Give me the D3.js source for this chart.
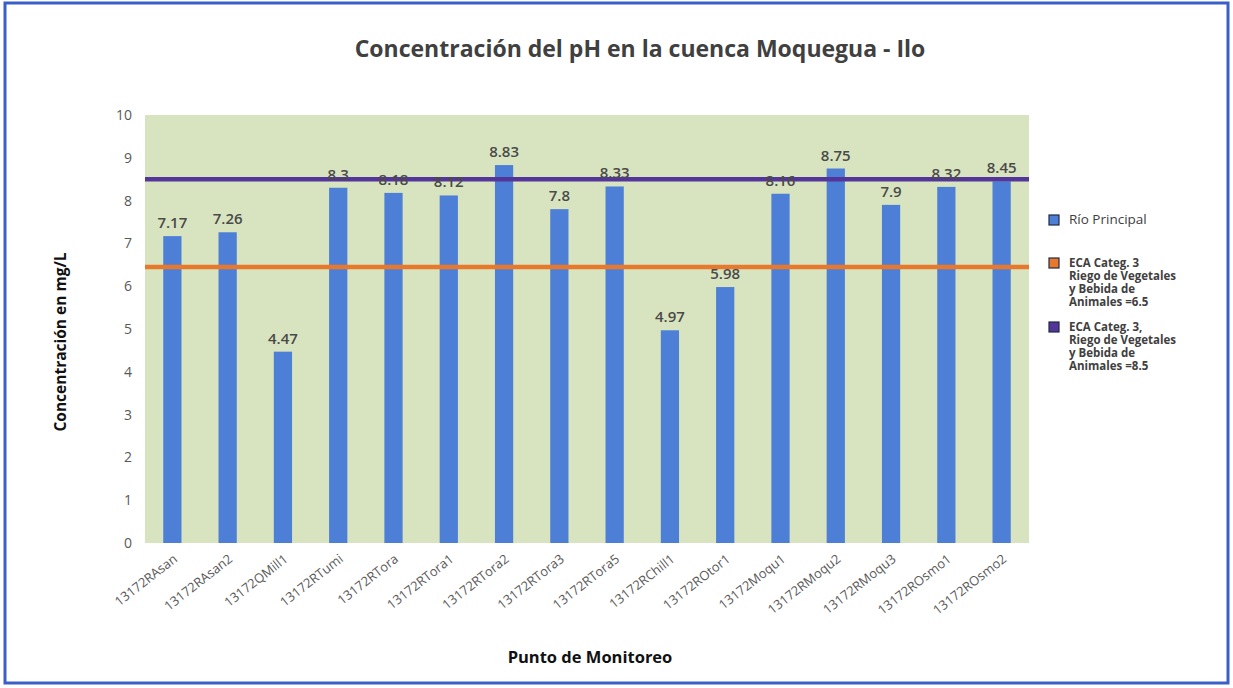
<!DOCTYPE html>
<html>
<head>
<meta charset="utf-8">
<script src="https://cdn.jsdelivr.net/npm/d3@7"></script>
<style>
  body { margin: 0; background: #fff; }
  text { font-family: "Open Sans", "Liberation Sans", sans-serif; }
</style>
</head>
<body>
<svg id="chart"></svg>
<script>
// monitoring points and pH values
var puntos = ["13172RAsan", "13172RAsan2", "13172QMill1", "13172RTumi", "13172RTora",
  "13172RTora1", "13172RTora2", "13172RTora3", "13172RTora5", "13172RChill1",
  "13172ROtor1", "13172Moqu1", "13172RMoqu2", "13172RMoqu3", "13172ROsmo1", "13172ROsmo2"];
var valores = [7.17, 7.26, 4.47, 8.3, 8.18, 8.12, 8.83, 7.8, 8.33, 4.97, 5.98, 8.16, 8.75, 7.9, 8.32, 8.45];
var limites = [6.45, 8.5];
var yTicks = [0, 1, 2, 3, 4, 5, 6, 7, 8, 9, 10];

var width = 1233, height = 688;
var m = {left: 145, right: 1029, top: 115, bottom: 543};

var svg = d3.select("#chart").attr("width", width).attr("height", height);

// outer frame
svg.append("rect")
  .attr("x", 5).attr("y", 3).attr("width", 1223).attr("height", 680)
  .attr("fill", "#fff").attr("stroke", "#3b5fc9").attr("stroke-width", 3);

var x = d3.scaleBand().domain(puntos).range([m.left, m.right]).paddingInner(0.67).paddingOuter(0.33);
var y = d3.scaleLinear().domain([0, 10]).range([m.bottom, m.top]);

svg.append("rect")
  .attr("x", m.left).attr("y", m.top)
  .attr("width", m.right - m.left).attr("height", m.bottom - m.top)
  .attr("fill", "#d8e4bf");

svg.append("text")
  .attr("x", 640).attr("y", 57)
  .attr("text-anchor", "middle")
  .style("font-size", "23px").style("font-weight", "bold").style("fill", "#404040")
  .text("Concentración del pH en la cuenca Moquegua - Ilo");

// y axis
var yAxis = svg.append("g")
  .attr("transform", "translate(" + m.left + ",0)")
  .call(d3.axisLeft(y).tickValues(yTicks).tickSize(0).tickPadding(13));
yAxis.select(".domain").remove();
yAxis.selectAll("text").style("font-size", "14px").style("fill", "#595959")
  .style("font-family", "'Open Sans', sans-serif");

// x axis, labels slanted
var xAxis = svg.append("g")
  .attr("transform", "translate(0," + m.bottom + ")")
  .call(d3.axisBottom(x).tickSize(0));
xAxis.select(".domain").remove();
xAxis.selectAll("text")
  .style("font-size", "13px").style("fill", "#595959")
  .style("font-family", "'Open Sans', sans-serif")
  .attr("text-anchor", "end")
  .attr("x", 0).attr("y", 0)
  .attr("dx", 0).attr("dy", "0.35em")
  .attr("transform", "translate(3,14) rotate(-38)");

// bars
svg.selectAll(".bar")
  .data(valores)
  .enter().append("rect")
  .attr("class", "bar")
  .attr("x", function(d, i) { return x(puntos[i]); })
  .attr("y", function(d) { return y(d); })
  .attr("width", x.bandwidth())
  .attr("height", function(d) { return y(0) - y(d); })
  .attr("fill", "#4e7fd6");

// threshold lines
var lineColors = ["#e8782c", "#54359a"];
svg.selectAll(".limite")
  .data(limites)
  .enter().append("line")
  .attr("x1", m.left).attr("x2", m.right)
  .attr("y1", function(d) { return y(d); })
  .attr("y2", function(d) { return y(d); })
  .attr("stroke", function(d, i) { return lineColors[i]; })
  .attr("stroke-width", 4.5);

// value labels
svg.selectAll(".lbl")
  .data(valores)
  .enter().append("text")
  .attr("x", function(d, i) { return x(puntos[i]) + x.bandwidth() / 2; })
  .attr("y", function(d) { return y(d) - 8; })
  .attr("text-anchor", "middle")
  .style("font-size", "15px").style("font-weight", "600").style("fill", "#4a4a4a")
  .text(function(d) { return d; });

// axis titles
svg.append("text")
  .attr("transform", "translate(66,342) rotate(-90)")
  .attr("text-anchor", "middle")
  .style("font-size", "15.5px").style("font-weight", "bold").style("fill", "#111")
  .text("Concentración en mg/L");

svg.append("text")
  .attr("x", 590).attr("y", 663)
  .attr("text-anchor", "middle")
  .style("font-size", "16.5px").style("font-weight", "bold").style("fill", "#111")
  .text("Punto de Monitoreo");

// legend
var legend = [
  {color: "#4e7fd6", y: 220, lines: ["Río Principal"], big: true},
  {color: "#e8782c", y: 263, lines: ["ECA Categ. 3", "Riego de Vegetales", "y Bebida de", "Animales  =6.5"]},
  {color: "#54359a", y: 327, lines: ["ECA Categ. 3,", "Riego de Vegetales", "y  Bebida de", "Animales  =8.5"]}
];
var lg = svg.selectAll(".leg").data(legend).enter().append("g");
lg.append("rect")
  .attr("x", 1049).attr("y", function(d) { return d.y - 5; })
  .attr("width", 10).attr("height", 10)
  .attr("fill", function(d) { return d.color; })
  .attr("stroke", "#1f2a44").attr("stroke-width", 1.2);
lg.each(function(d) {
  var t = d3.select(this).append("text")
    .attr("x", 1069).attr("y", d.y + 4)
    .style("font-size", d.big ? "13.5px" : "11.5px")
    .style("font-weight", d.big ? "normal" : "bold")
    .style("fill", "#404040");
  d.lines.forEach(function(l, k) {
    t.append("tspan").attr("x", 1069).attr("dy", k ? 13 : 0).text(l);
  });
});
</script>
</body>
</html>
